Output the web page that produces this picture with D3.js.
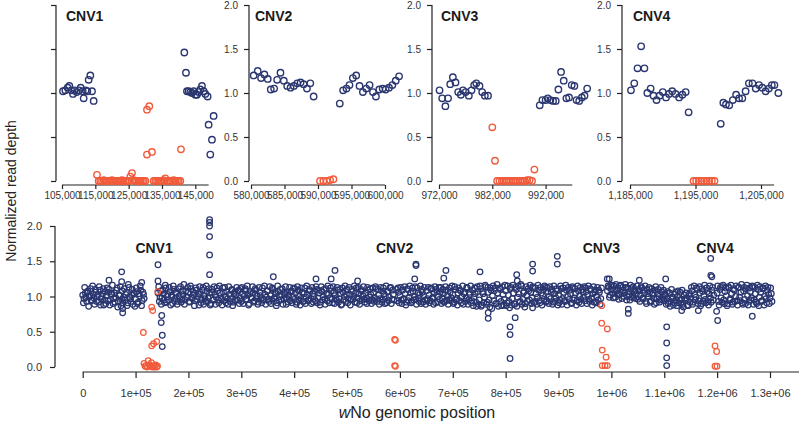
<!DOCTYPE html>
<html><head><meta charset="utf-8">
<script src="https://cdn.jsdelivr.net/npm/d3@7"></script>
<style>
body{margin:0;background:#fff}
svg{display:block}
text{font-family:"Liberation Sans",Arial,Helvetica,sans-serif}
</style>
</head><body>
<svg id="c" width="800" height="428"></svg>
<script>
// ---------------- DATA ----------------
// Whole-genome panel: background windows every 2.5 kb from 0 (set A) and from 1.25 kb (set B); null = no window
const bandStep = 2500;
const bandOffsetB = 1250;
const bandDepthA = [
1.02,0.97,1.05,0.93,1.08,0.99,1.11,0.95,1.03,0.89,1.06,1.00,0.92,1.09,0.97,1.04,0.88,1.07,1.01,0.94,
1.10,0.96,1.03,0.90,1.05,0.98,1.12,0.93,1.01,0.87,1.08,0.99,0.95,1.06,0.91,1.13,0.97,1.02,0.89,1.04,
0.96,1.07,0.92,1.01,1.09,0.94,1.03,null,null,null,null,null,null,null,null,null,null,1.05,0.93,1.08,
0.98,1.04,0.91,1.12,1.00,0.95,1.07,1.02,0.90,1.10,0.97,1.05,0.93,1.01,1.14,0.96,1.03,0.89,1.08,0.99,
1.06,0.92,1.11,0.97,1.02,0.94,1.09,1.00,0.88,1.04,0.96,1.13,1.01,0.93,1.07,0.98,1.05,0.90,1.10,0.95,
1.03,0.99,1.08,0.91,1.05,0.96,1.12,0.94,1.00,1.07,0.89,1.03,0.97,1.10,0.92,1.06,1.01,0.95,1.09,0.98,
0.93,1.04,1.00,1.11,0.96,1.02,0.90,1.07,0.98,1.05,0.94,1.09,1.01,0.92,1.06,0.97,1.12,0.95,1.03,0.99,
1.08,0.93,1.01,0.96,1.10,0.98,1.04,0.91,1.07,1.00,0.95,1.11,0.97,1.03,0.89,1.06,1.02,0.94,1.08,1.00,
0.96,1.05,0.92,1.09,1.01,0.97,1.06,0.93,1.12,0.99,1.03,0.95,1.08,0.90,1.04,1.00,0.94,1.10,0.98,1.05,
0.92,1.07,1.00,0.96,1.11,0.94,1.03,0.98,1.08,0.91,1.05,1.01,0.95,1.09,0.97,1.04,0.89,1.06,1.00,0.93,
1.10,0.97,1.03,0.95,1.07,1.00,0.92,1.12,0.98,1.04,0.94,1.08,1.01,0.96,1.05,0.90,1.09,0.99,1.03,0.95,
1.06,0.98,1.11,0.93,1.02,0.97,1.08,0.95,1.04,1.00,0.91,1.07,0.99,1.13,0.96,1.03,null,null,0.94,1.06,
1.01,0.95,1.09,0.97,1.04,0.92,1.10,0.99,1.05,0.93,1.07,1.00,0.96,1.12,0.98,1.03,0.90,1.06,1.01,0.95,
1.08,0.97,1.02,0.94,1.11,0.99,1.05,0.91,1.07,1.00,0.96,1.13,0.98,1.04,0.93,1.09,1.01,0.95,1.06,0.98,
1.03,0.92,1.10,0.97,1.05,0.94,1.08,1.00,0.89,1.06,0.98,1.12,0.95,1.03,0.91,1.09,0.99,1.04,0.86,1.07,
0.95,1.11,0.88,1.04,0.99,1.14,0.92,1.06,0.85,1.09,1.01,0.94,1.12,0.90,1.05,0.97,1.10,0.87,1.03,0.96,
1.08,0.91,1.02,0.84,1.13,0.97,1.05,0.89,1.10,0.99,1.04,0.93,1.15,0.96,1.07,0.90,1.02,1.11,0.95,1.06,
0.98,1.12,0.93,1.04,0.99,1.09,0.91,1.05,1.01,0.96,1.13,0.94,1.07,1.00,0.97,1.10,0.92,1.04,0.98,1.08,
1.02,0.95,1.11,0.97,1.06,0.93,1.09,1.00,0.96,1.04,0.90,1.12,0.98,1.05,0.94,1.08,1.01,0.96,1.10,0.99,
0.94,1.07,1.02,0.96,1.11,0.98,1.04,0.92,1.09,1.00,0.95,1.06,0.97,null,null,null,null,1.08,1.13,1.02,
1.10,1.04,1.15,0.99,1.08,1.12,1.02,1.16,0.97,1.09,1.05,1.13,1.00,1.07,0.95,1.11,1.03,0.98,1.09,1.04,
0.96,1.08,1.02,1.12,0.98,1.05,0.93,1.10,1.00,1.06,0.94,1.03,0.97,1.09,0.91,1.04,1.00,0.95,1.07,0.99,
0.94,1.02,0.97,0.90,1.05,0.93,0.99,0.88,1.03,0.95,1.00,0.91,1.06,0.96,0.89,1.02,0.94,0.98,0.87,1.04,
0.97,1.08,0.92,1.03,0.99,1.10,0.94,1.05,0.90,1.07,1.01,0.96,1.12,0.93,1.04,0.98,1.09,0.95,null,null,
1.05,0.93,1.10,0.98,1.14,0.95,1.07,1.01,0.90,1.12,0.97,1.04,0.92,1.09,1.00,0.94,1.13,0.99,1.06,0.91,
1.08,0.96,1.11,1.01,0.93,1.07,0.98,1.14,0.95,1.04,0.90,1.10,0.99,1.06,0.94,1.12,1.00,0.97,1.09,1.03,
0.98,1.04
];
const bandDepthB = [
0.91,1.13,0.99,1.06,0.86,1.01,0.94,1.15,0.98,1.10,0.93,1.03,1.14,0.88,1.00,1.11,0.95,0.90,1.12,1.06,
0.88,1.04,1.16,0.97,0.92,1.09,0.85,1.02,1.14,0.96,0.91,1.11,1.03,0.87,1.17,0.99,0.93,1.10,1.05,0.86,
1.12,0.90,1.04,1.15,0.87,1.06,0.97,null,null,null,null,null,null,null,null,null,null,1.14,0.99,0.89,
1.09,0.95,1.16,0.92,1.03,1.13,0.88,0.99,1.15,0.94,1.06,0.89,1.11,0.97,0.92,1.08,1.17,0.95,1.00,1.13,
0.93,1.15,0.98,1.07,0.87,1.12,0.96,1.04,1.14,0.91,1.09,0.89,0.97,1.15,0.93,1.11,0.88,1.06,0.95,1.14,
0.89,1.12,0.95,1.15,0.98,0.88,1.06,1.13,0.91,0.97,1.14,0.93,1.09,0.87,1.04,0.95,1.13,1.08,0.90,1.11,
1.13,0.90,1.09,0.95,1.15,0.88,1.04,0.99,1.14,0.92,1.11,0.97,0.89,1.13,1.01,0.91,0.96,1.15,0.89,1.08,
0.96,1.14,0.90,1.12,0.93,1.07,0.87,1.15,0.95,1.10,1.02,0.89,1.06,1.14,0.97,0.92,1.13,1.07,0.91,1.12,
1.11,0.89,1.14,0.95,0.88,1.12,0.93,1.04,0.90,1.15,0.94,1.10,0.97,1.13,0.92,1.08,1.14,0.91,1.09,0.88,
1.14,0.95,1.10,0.89,1.04,1.15,0.91,1.12,0.96,1.14,0.90,0.97,1.13,0.92,1.10,0.88,1.12,0.95,1.15,1.03,
0.91,1.13,0.88,1.10,0.96,1.15,1.05,0.91,1.13,0.89,1.10,0.96,1.14,0.92,0.98,1.13,0.94,1.11,0.90,1.12,
0.93,1.14,0.96,1.10,0.89,1.13,0.92,1.12,0.90,1.15,1.07,0.94,1.12,0.90,1.09,0.95,null,1.10,1.12,0.91,
1.13,0.90,0.96,1.14,0.88,1.11,0.94,1.15,0.91,1.12,0.95,1.14,0.89,1.05,0.93,1.15,1.10,0.92,1.13,0.89,
0.94,1.13,0.91,1.12,0.97,0.89,1.14,1.10,0.92,1.13,1.06,0.90,1.10,0.92,1.14,0.95,0.89,1.12,0.94,1.15,
0.90,1.14,0.95,0.88,1.12,1.09,0.91,1.15,1.04,0.93,1.13,0.89,1.06,1.15,0.94,0.87,1.12,0.92,1.14,0.89,
1.15,0.86,1.07,0.91,1.16,0.89,1.13,0.95,1.12,0.83,1.15,1.08,0.90,1.17,0.86,1.12,0.93,1.14,0.88,1.16,
0.87,1.15,0.93,1.11,0.88,1.16,0.90,1.13,0.86,1.15,0.92,1.17,0.89,1.05,0.85,1.14,0.93,1.08,1.16,0.90,
1.14,0.91,1.12,0.89,1.16,0.94,1.13,0.88,1.10,1.15,0.92,1.12,0.90,1.14,1.06,0.89,1.15,0.93,1.11,0.88,
0.91,1.15,0.89,1.12,0.94,1.16,0.88,1.13,1.09,0.91,1.14,0.95,1.11,0.88,1.15,0.92,1.13,0.90,1.06,1.14,
1.12,0.90,1.15,0.93,1.10,0.88,1.14,1.06,0.91,1.13,1.09,0.89,1.12,null,null,null,null,1.15,0.99,1.16,
1.16,0.98,1.09,1.17,1.04,0.96,1.15,1.06,1.13,1.00,1.17,0.95,1.12,1.03,1.16,0.99,1.14,1.07,0.97,1.15,
1.10,0.93,1.14,0.97,1.09,1.15,0.90,1.04,1.13,0.92,1.11,1.05,0.89,1.14,0.97,1.10,0.92,1.13,0.96,1.09,
1.04,0.89,1.07,0.93,0.86,1.10,0.97,0.91,1.06,0.87,1.08,0.95,0.90,1.09,0.85,0.97,1.05,0.88,1.01,0.92,
1.13,0.89,1.15,0.95,1.12,0.90,1.14,0.87,1.11,0.93,1.16,0.91,1.07,0.88,1.15,0.92,1.13,1.02,null,null,
1.15,0.88,1.13,0.92,1.16,0.90,1.12,0.87,1.14,0.95,1.16,0.89,1.11,0.93,1.15,0.88,1.13,0.94,1.17,0.89,
1.13,0.90,1.16,0.88,1.12,0.95,1.15,0.89,1.13,0.92,1.16,0.87,1.14,0.93,1.11,0.88,1.15,0.91,1.13,0.90,
1.12,0.93
];
// Whole-genome panel: outlying windows (position, depth)
const genomeOutliers = [
[49700,1.23],[73700,1.35],[73700,1.21],[75600,0.83],[75600,0.77],[111600,1.20],
[142400,1.45],[142400,1.22],[149500,0.73],[148500,0.63],[150500,0.45],[150500,0.29],
[240000,2.09],[240000,2.05],[240000,2.00],[240000,1.85],[240000,1.59],[240000,1.31],
[360500,1.28],[441300,1.25],[470000,1.25],[477200,1.37],[520000,1.22],
[628000,1.25],[630400,1.46],[630400,1.44],[683000,1.26],[687000,1.37],[751500,1.35],
[767000,0.77],[767000,0.69],[808300,0.57],[808300,0.46],[808300,0.12],[818000,0.70],
[820900,1.31],[822000,1.22],[851000,1.46],[851000,1.36],[851000,0.84],[897700,1.57],[897700,1.46],
[992200,1.25],[996000,1.25],[1032000,0.82],[1032000,0.76],[1052800,1.23],
[1102700,1.25],[1104600,0.57],[1104600,0.34],[1104600,0.13],[1104600,0.02],
[1133000,0.80],[1164400,0.80],[1187800,1.54],[1188000,1.30],[1190000,1.28],
[1199000,0.79],[1201000,0.66],[1266500,0.72]
];
// Whole-genome panel: windows inside the four CNVs (position, depth)
const genomeDeleted = [
[114700,0.49],[116000,0.05],[118000,0.01],[120000,0.02],[122000,0.00],[124000,0.09],[126000,0.03],
[128000,0.01],[130000,0.06],[132000,0.00],[134000,0.02],[136000,0.00],[138000,0.03],[140000,0.00],[141500,0.01],
[130500,0.85],[132400,0.80],[130500,0.30],[134000,0.33],[140000,0.36],[142000,1.07],
[590000,0.39],[591500,0.38],[590000,0.02],[591500,0.01],
[981700,0.87],[981700,0.62],[992300,0.54],[982700,0.24],[990000,0.14],[982700,0.02],[987900,0.02],[992300,0.02],
[1196000,0.30],[1199100,0.22],[1196000,0.01],[1199700,0.01]
];
const cnvNames = ["CNV1","CNV2","CNV3","CNV4"];
const cnvCentres = [135000,590000,981000,1196000];
const genomeXTicks = [0,100000,200000,300000,400000,500000,600000,700000,800000,900000,1000000,1100000,1200000,1300000];
const genomeXLabels = ["0","1e+05","2e+05","3e+05","4e+05","5e+05","6e+05","7e+05","8e+05","9e+05","1e+06","1.1e+06","1.2e+06","1.3e+06"];
const depthTicks = [0,0.5,1,1.5,2];

// Zoomed CNV panels: normal windows and deleted windows (position, depth)
const cnv1Normal = [
[105300,1.02],[106000,1.03],[106700,1.06],[107200,1.08],[107800,1.03],[108300,0.99],[108800,1.03],[109400,1.01],
[110100,1.03],[110600,1.06],[111200,1.02],[111500,0.94],[112100,1.03],[112600,1.02],[113000,1.15],[113500,1.20],
[114000,1.02],[114500,0.91],
[141700,1.46],[142200,1.23],[142500,1.02],[143000,1.02],[143500,1.01],[144000,1.00],[144500,1.02],[145000,0.98],
[145500,0.98],[146000,1.01],[146500,1.04],[147000,1.08],[147500,1.02],[148000,0.99],[148700,0.96],
[149000,0.64],[149500,0.30],[150000,0.47],[150500,0.74]
];
const cnv1Deleted = [
[115500,0.07],[116000,0],[116500,0],[117000,0],[117500,0.01],[118000,0],[118500,0],[119000,0],[119500,0],
[120000,0.01],[120500,0],[121000,0],[121500,0],[122000,0],[122500,0],[123000,0.01],[123500,0],[124000,0],
[124500,0],[125000,0],[125500,0.05],[126000,0.09],[126500,0.01],[127000,0],[127500,0],[128000,0],[128500,0],
[129000,0],[129500,0],[130000,0],[130500,0.81],[131200,0.85],[130500,0.30],[132000,0.33],[132500,0],
[133000,0],[133500,0],[134000,0],[134500,0],[135000,0],[135500,0.01],[136000,0.03],[136500,0],[137000,0],
[137500,0],[138000,0],[138500,0.01],[139000,0],[139500,0],[140000,0],[140500,0],[140700,0.36]
];
const cnv2Normal = [
[580400,1.20],[581000,1.25],[581500,1.17],[582000,1.21],[582500,1.16],[582950,1.04],[583450,1.05],[583900,1.15],
[584400,1.23],[584900,1.14],[585400,1.08],[585900,1.06],[586400,1.08],[586900,1.11],[587400,1.12],[587850,1.10],
[588350,1.05],[588850,1.11],[589350,0.96],
[593250,0.88],[593750,1.03],[594250,1.05],[594700,1.09],[595200,1.17],[595700,1.20],[596200,1.08],[596700,1.01],
[597200,1.05],[597700,1.09],[598200,1.01],[598650,0.96],[599150,1.04],[599650,1.05],[600100,1.04],[600600,1.06],
[601100,1.09],[601600,1.14],[602100,1.19]
];
const cnv2Deleted = [[590300,0],[590800,0],[591300,0],[591800,0.01],[592300,0.02]];
const cnv3Normal = [
[972100,1.03],[972600,0.94],[973200,0.85],[973700,0.94],[974100,1.10],[974600,1.18],[975100,1.12],[975600,1.01],
[976100,0.98],[976500,1.03],[977000,1.01],[977600,0.97],[978100,1.03],[978600,1.09],[979000,1.11],[979600,1.08],
[980100,1.01],[980600,0.97],[981200,0.97],
[990900,0.86],[991400,0.92],[992000,0.92],[992400,0.94],[992900,0.92],[993400,0.91],[993900,0.91],[994400,1.04],
[994900,1.24],[995400,1.14],[995900,0.94],[996400,0.95],[996900,1.09],[997400,1.08],[997800,0.92],[998300,0.91],
[998800,0.95],[999300,0.97],[999800,1.05]
];
const cnv3Deleted = [
[982000,0.61],[982500,0.23],[982900,0],[983350,0],[983800,0],[984200,0],[984650,0],[985100,0],[985500,0],
[985950,0],[986400,0],[986800,0],[987250,0],[987700,0],[988100,0],[988550,0.01],[989000,0.01],[989450,0],[989900,0.13]
];
const cnv4Normal = [
[1185150,1.03],[1185650,1.11],[1186150,1.28],[1186700,1.53],[1187200,1.28],[1187650,1.00],[1188150,1.05],
[1188600,0.97],[1189050,0.92],[1189500,0.97],[1190000,1.01],[1190500,0.95],[1190950,0.99],[1191450,1.02],
[1191950,0.99],[1192500,0.95],[1193000,0.98],[1193500,1.01],[1193950,0.78],
[1198850,0.65],[1199250,0.89],[1199650,0.87],[1200150,0.86],[1200700,0.92],[1201200,0.98],[1201650,0.94],
[1202150,0.94],[1202650,1.02],[1203150,1.11],[1203700,1.11],[1204200,1.05],[1204700,1.09],[1205200,1.06],
[1205700,1.02],[1206200,1.05],[1206650,1.09],[1207050,1.09],[1207650,1.00]
];
const cnv4Deleted = [
[1194700,0],[1195100,0],[1195500,0],[1195900,0],[1196300,0],[1196700,0],[1197100,0],[1197500,0],[1197900,0]
];
const cnv1Ticks = [105000,115000,125000,135000,145000];
const cnv2Ticks = [580000,585000,590000,595000,600000];
const cnv3Ticks = [972000,982000,992000];
const cnv4Ticks = [1185000,1195000,1205000];

// ---------------- DRAWING ----------------
const navy = "#2a3670", orange = "#f15a3a", axisCol = "#222", textCol = "#333";
const svg = d3.select("#c");

function styleAxis(g, fs){
  g.selectAll("path.domain").remove();
  g.selectAll("line").attr("stroke", axisCol).attr("stroke-width", 1.2);
  g.selectAll("text").attr("fill", textCol).style("font-size", fs + "px")
    .style("font-family", '"Liberation Sans",Arial,sans-serif');
}

// ---- whole genome panel ----
const gx = d3.scaleLinear().domain([0,1300000]).range([82.7,770]);
const gy = d3.scaleLinear().domain([0,2]).range([367,226]);
const gB = svg.append("g");

const gyAxis = gB.append("g").attr("transform","translate(55,0)")
  .call(d3.axisLeft(gy).tickValues(depthTicks).tickSize(5).tickPadding(8).tickFormat(d3.format(".1f")));
styleAxis(gyAxis, 11);
gyAxis.append("line").attr("x1",0).attr("x2",0).attr("y1",gy(0)).attr("y2",gy(2))
  .attr("stroke",axisCol).attr("stroke-width",1.2);

const gxAxis = gB.append("g").attr("transform","translate(0,372)")
  .call(d3.axisBottom(gx).tickValues(genomeXTicks).tickSize(6).tickPadding(11)
    .tickFormat((d,i)=>genomeXLabels[i]));
styleAxis(gxAxis, 11);
gxAxis.append("line").attr("x1",gx(0)).attr("x2",799).attr("y1",0).attr("y2",0)
  .attr("stroke",axisCol).attr("stroke-width",1.2);

const bandPts = bandDepthA.map((v,i)=>[i*bandStep, v])
  .concat(bandDepthB.map((v,i)=>[i*bandStep + bandOffsetB, v]))
  .filter(d=>d[1]!==null);
const gR = 2.8, gSW = 1.25;
gB.append("g").selectAll("circle").data(bandPts.concat(genomeOutliers)).join("circle")
  .attr("cx",d=>gx(d[0])).attr("cy",d=>gy(d[1])).attr("r",gR)
  .attr("fill","none").attr("stroke",navy).attr("stroke-width",gSW);
gB.append("g").selectAll("circle").data(genomeDeleted).join("circle")
  .attr("cx",d=>gx(d[0])).attr("cy",d=>gy(d[1])).attr("r",gR)
  .attr("fill","none").attr("stroke",orange).attr("stroke-width",gSW);

gB.append("g").selectAll("text").data(cnvNames).join("text")
  .attr("x",(d,i)=>gx(cnvCentres[i])).attr("y",253).attr("text-anchor","middle")
  .style("font-size","14px").style("font-weight","bold").attr("fill","#1a1a1a").text(d=>d);

// axis titles
svg.append("text").attr("transform","translate(16,191) rotate(-90)").attr("text-anchor","middle")
  .style("font-size","14px").attr("fill","#222").text("Normalized read depth");
const xt = svg.append("text").attr("x",417).attr("y",418).attr("text-anchor","middle")
  .style("font-size","16px").attr("fill","#222");
xt.append("tspan").style("font-style","italic").text("w");
xt.append("tspan").text("No genomic position");

// ---- zoomed CNV panels ----
const py = d3.scaleLinear().domain([0,2]).range([181,5]);
const panels = [
  {name:cnvNames[0], normal:cnv1Normal, del:cnv1Deleted, ticks:cnv1Ticks, dom:[105000,145000], rng:[62,195.3], axisEnd:149000, yx:56, ylab:false, tx:66},
  {name:cnvNames[1], normal:cnv2Normal, del:cnv2Deleted, ticks:cnv2Ticks, dom:[580000,600000], rng:[251,385], axisEnd:600000, yx:249, ylab:true, tx:255},
  {name:cnvNames[2], normal:cnv3Normal, del:cnv3Deleted, ticks:cnv3Ticks, dom:[972000,992000], rng:[439,545.6], axisEnd:997000, yx:432, ylab:true, tx:441},
  {name:cnvNames[3], normal:cnv4Normal, del:cnv4Deleted, ticks:cnv4Ticks, dom:[1185000,1205000], rng:[630,761], axisEnd:1207000, yx:622, ylab:true, tx:633}
];
const pR = 3.2, pSW = 1.4;
panels.forEach(p=>{
  const sx = d3.scaleLinear().domain(p.dom).range(p.rng);
  const g = svg.append("g");
  const ya = g.append("g").attr("transform",`translate(${p.yx},0)`)
    .call(d3.axisLeft(py).tickValues(depthTicks).tickSize(5).tickPadding(6)
      .tickFormat(p.ylab ? d3.format(".1f") : ()=>""));
  styleAxis(ya, 10);
  ya.append("line").attr("x1",0).attr("x2",0).attr("y1",py(0)).attr("y2",py(2))
    .attr("stroke",axisCol).attr("stroke-width",1.2);
  const xa = g.append("g").attr("transform","translate(0,185)")
    .call(d3.axisBottom(sx).tickValues(p.ticks).tickSize(4).tickPadding(3).tickFormat(d3.format(",")));
  styleAxis(xa, 10);
  xa.append("line").attr("x1",sx(p.dom[0])).attr("x2",sx(p.axisEnd)).attr("y1",0).attr("y2",0)
    .attr("stroke",axisCol).attr("stroke-width",1.2);
  g.append("g").selectAll("circle").data(p.normal).join("circle")
    .attr("cx",d=>sx(d[0])).attr("cy",d=>py(d[1])).attr("r",pR)
    .attr("fill","none").attr("stroke",navy).attr("stroke-width",pSW);
  g.append("g").selectAll("circle").data(p.del).join("circle")
    .attr("cx",d=>sx(d[0])).attr("cy",d=>py(d[1])).attr("r",pR)
    .attr("fill","none").attr("stroke",orange).attr("stroke-width",pSW);
  g.append("text").attr("x",p.tx).attr("y",21).style("font-size","14px").style("font-weight","bold")
    .attr("fill","#1a1a1a").text(p.name);
});
</script>
</body></html>
